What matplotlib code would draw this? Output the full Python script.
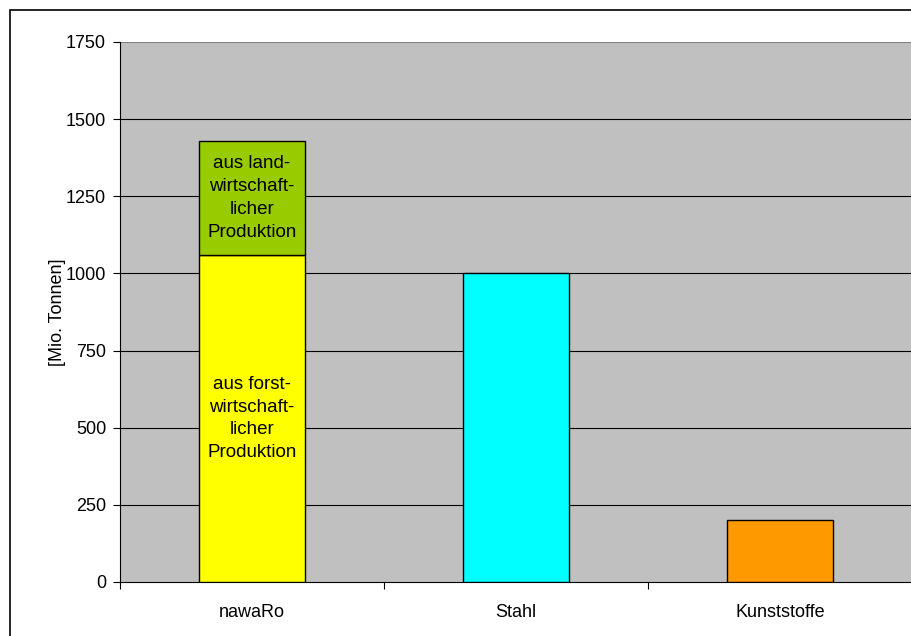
import matplotlib.pyplot as plt
from matplotlib.patches import Rectangle
from matplotlib.ticker import FixedLocator, NullFormatter

plt.rcParams['font.family'] = ['Liberation Sans', 'DejaVu Sans']

categories = ['nawaRo', 'Stahl', 'Kunststoffe']
forst = [1060, 0, 0]
land = [370, 0, 0]
other = [0, 1000, 200]
colors = ['#FFFF00', '#00FFFF', '#FF9900']
yticks = [0, 250, 500, 750, 1000, 1250, 1500, 1750]
forst_label = 'aus forst-\nwirtschaft-\nlicher\nProduktion'
land_label = 'aus land-\nwirtschaft-\nlicher\nProduktion'

fig = plt.figure(figsize=(9.12, 6.36), dpi=100)
ax = fig.add_axes([120/912, 54/636, 792/912, 540/636])
ax.set_facecolor('#C0C0C0')

x = list(range(len(categories)))
w = 0.4
# stacked nawaRo bar
ax.bar(x[0], forst[0], w, color=colors[0], edgecolor='black', linewidth=1, zorder=3)
ax.bar(x[0], land[0], w, bottom=forst[0], color='#99CC00', edgecolor='black', linewidth=1, zorder=3)
for i in (1, 2):
    ax.bar(x[i], other[i], w, color=colors[i], edgecolor='black', linewidth=1, zorder=3)

ax.text(x[0], forst[0] / 2, forst_label, ha='center', va='center', ma='center',
        fontsize=13.5, linespacing=1.45, zorder=4)
ax.text(x[0], forst[0] + land[0] / 2, land_label, ha='center', va='center', ma='center',
        fontsize=13.5, linespacing=1.45, zorder=4)

ax.set_xlim(-0.5, 2.5)
ax.set_ylim(0, 1750)
ax.set_yticks(yticks)
for v in yticks[1:-1]:
    ax.axhline(v, color='black', linewidth=0.8, zorder=1)
ax.axhline(yticks[-1], color='#808080', linewidth=0.8, zorder=1)

ax.xaxis.set_major_locator(FixedLocator([-0.5, 0.5, 1.5, 2.5]))
ax.xaxis.set_major_formatter(NullFormatter())
ax.xaxis.set_minor_locator(FixedLocator(x))
ax.set_xticklabels(categories, minor=True)
ax.tick_params(axis='x', which='minor', length=0, pad=16, labelsize=13)
ax.tick_params(axis='x', which='major', length=5, width=0.8)
ax.tick_params(axis='y', length=5, width=0.8, labelsize=13, pad=5)

for s in ('top', 'right'):
    ax.spines[s].set_visible(False)
ax.spines['left'].set_linewidth(0.8)
ax.spines['bottom'].set_linewidth(0.8)

ax.set_ylabel('[Mio. Tonnen]', fontsize=13, labelpad=0)

# frame around the chart
fig.patches.append(Rectangle((10/912, -0.1), 1.2, (626/636) + 0.1, transform=fig.transFigure,
                             fill=False, edgecolor='black', linewidth=1.2))

fig.savefig('out.png', dpi=100)
